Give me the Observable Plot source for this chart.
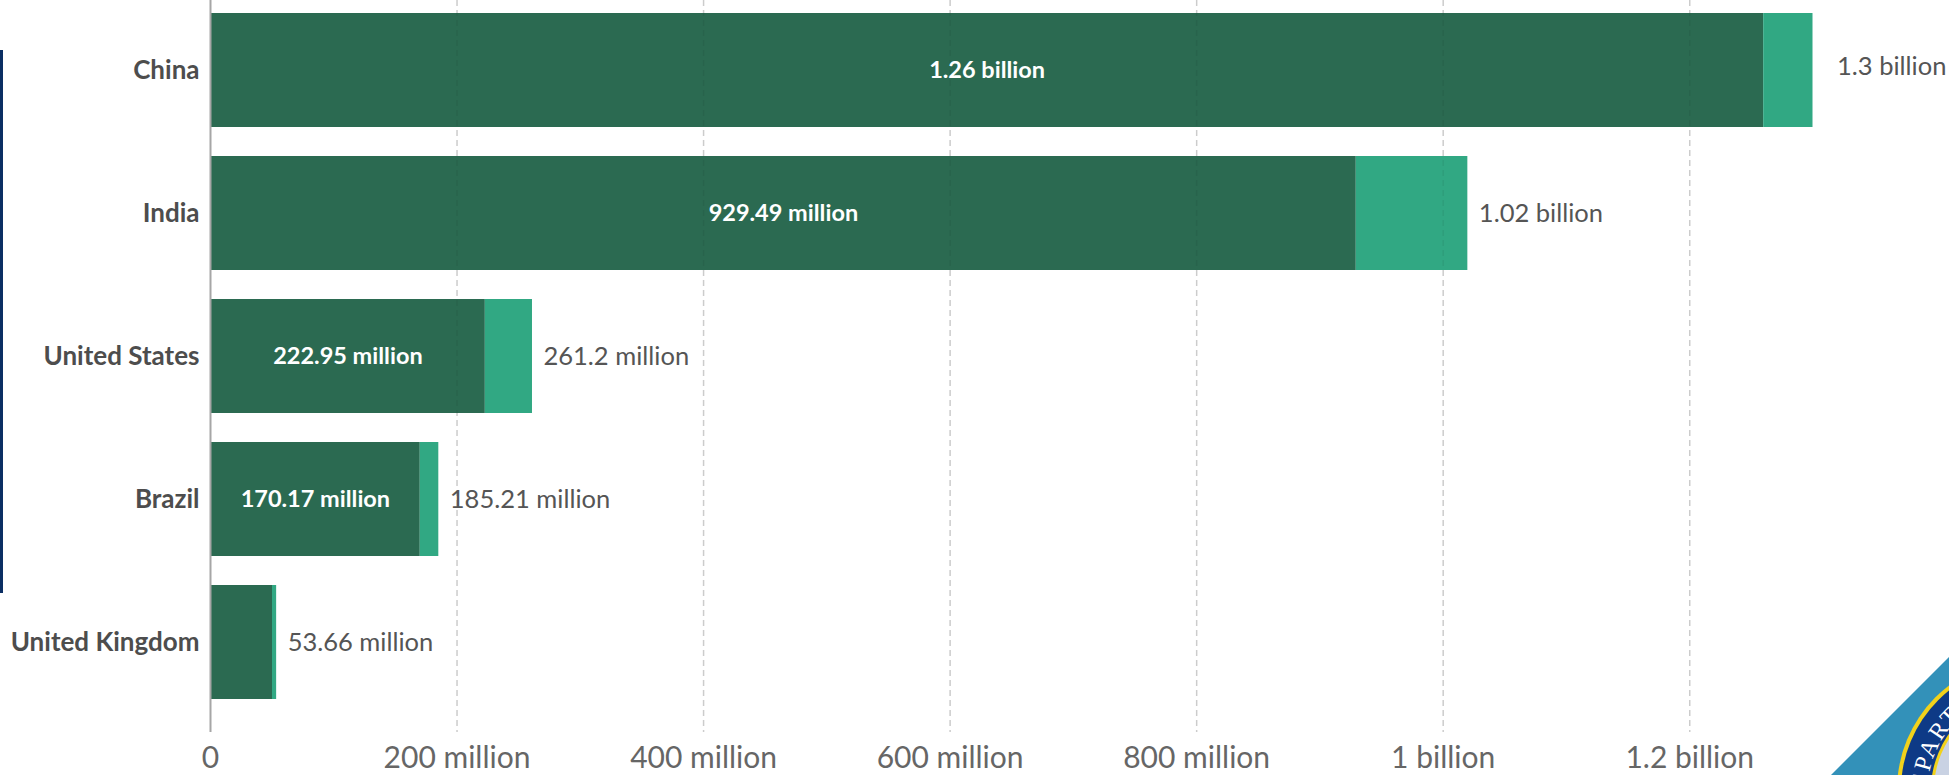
<!DOCTYPE html>
<html>
<head>
<meta charset="utf-8">
<script src="https://cdn.jsdelivr.net/npm/d3@7"></script>
<script src="https://cdn.jsdelivr.net/npm/@observablehq/plot@0.6"></script>
<style>
  html, body { margin: 0; padding: 0; background: #fff; overflow: hidden; }
  #wrap { position: relative; width: 1949px; height: 775px; }
  #chart svg { display: block; }
  #navy { position: absolute; left: 0; top: 50px; width: 3px; height: 543px; background: #0b2e63; }
  #seal { position: absolute; left: 0; top: 0; pointer-events: none; }
</style>
</head>
<body>
<div id="wrap">
  <div id="chart"></div>
  <div id="navy"></div>
  <svg id="seal" width="1949" height="775" viewBox="0 0 1949 775">
    <defs>
      <path id="sealArc" d="M 1928.6 807.9 A 103 103 0 0 1 2131.4 772.1" />
      <clipPath id="vp"><rect x="0" y="0" width="1949" height="775" /></clipPath>
    </defs>
    <g clip-path="url(#vp)">
      <polygon points="1831,775 1949,657 1949,775" fill="#3391b9" />
      <circle cx="2028" cy="790" r="131" fill="#f2d21b" />
      <circle cx="2028" cy="790" r="127" fill="#0e3a86" />
      <circle cx="2028" cy="790" r="97" fill="#f2d21b" />
      <circle cx="2028" cy="790" r="94" fill="#c9d2e3" />
      <text font-family="Liberation Serif, serif" font-size="24" fill="#fff" letter-spacing="2">
        <textPath href="#sealArc" startOffset="0">DEPARTMENT</textPath>
      </text>
    </g>
  </svg>
</div>
<script>
// ---- data (values in millions) ----
const countries   = ["China", "India", "United States", "Brazil", "United Kingdom"];
const firstValues = [1260, 929.49, 222.95, 170.17, 50.3];
const totalValues = [1300, 1020, 261.2, 185.21, 53.66];
const xTicks      = [0, 200, 400, 600, 800, 1000, 1200];
const xTickLabels = ["0", "200 million", "400 million", "600 million", "800 million", "1 billion", "1.2 billion"];

const fmt = m => m >= 1000 ? `${+(m / 1000).toFixed(2)} billion` : `${+m.toFixed(2)} million`;

const rows = countries.map((c, i) => ({
  country: c,
  first: firstValues[i],
  total: totalValues[i],
  mid: firstValues[i] / 2
}));

const chart = Plot.plot({
  width: 1949,
  height: 775,
  marginLeft: 210,
  marginRight: 136.5,
  marginTop: 0,
  marginBottom: 43,
  style: { fontFamily: "Lato, 'Noto Sans', sans-serif", background: "transparent" },
  x: { domain: [0, 1300] },
  y: { domain: countries, paddingInner: 0.2, paddingOuter: 0.1417, align: 0.294 },
  marks: [
    Plot.ruleX(xTicks.filter(t => t > 0), { stroke: "#d9d9d9", strokeWidth: 1.5, strokeDasharray: "6,4" }),
    Plot.barX(rows, { y: "country", x1: 0, x2: "first", fill: "#2b6a51" }),
    Plot.barX(rows, { y: "country", x1: "first", x2: "total", fill: "#31a883" }),
    Plot.ruleX(xTicks.filter(t => t > 0), { stroke: "#000", strokeOpacity: 0.06, strokeWidth: 1.5, strokeDasharray: "6,4" }),
    Plot.ruleX([0], { stroke: "#a6a6a6", strokeWidth: 2 }),
    Plot.text(rows.filter(d => d.first > 100), {
      y: "country", x: "mid", text: d => fmt(d.first),
      fill: "#ffffff", fontWeight: "bold", fontSize: 23.5
    }),
    Plot.text(rows.filter(d => d.country !== "China"), {
      y: "country", x: "total", text: d => fmt(d.total),
      textAnchor: "start", dx: 11, fill: "#555555", fontSize: 25.5
    }),
    Plot.text(rows.filter(d => d.country === "China"), {
      y: "country", x: "total", text: d => fmt(d.total),
      textAnchor: "start", dx: 24, dy: -4, fill: "#555555", fontSize: 25.5
    }),
    Plot.axisY({ tickSize: 0, tickPadding: 11, fontSize: 26, fontWeight: "bold", color: "#4d4d4d", label: null }),
    Plot.axisX({
      ticks: xTicks, tickFormat: (d) => xTickLabels[xTicks.indexOf(d)],
      tickSize: 0, tickPadding: 14, fontSize: 30, color: "#666666", label: null
    })
  ]
});

document.getElementById("chart").appendChild(chart);
</script>
</body>
</html>
